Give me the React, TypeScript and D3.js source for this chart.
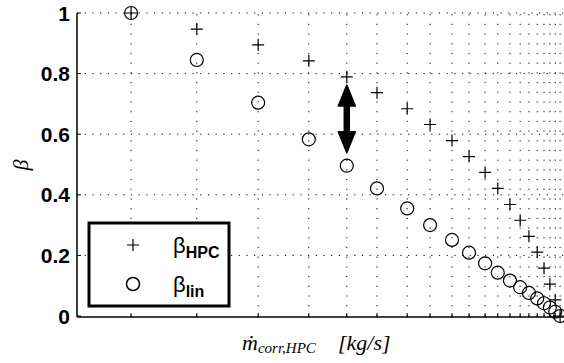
import React from "react";
import * as d3 from "d3";

// Corrected HPC mass flow (arbitrary units, axis carries no numeric labels)
const massFlow = [11.1, 24.6, 37.2, 47.6, 55.4, 61.6, 67.8, 72.5, 77.0, 80.5, 83.8, 86.4, 88.9, 91.0, 92.8, 94.5, 95.9, 97.1, 98.2, 99.2];
const betaHPC = [1, 0.947, 0.895, 0.842, 0.789, 0.737, 0.684, 0.632, 0.579, 0.526, 0.474, 0.421, 0.368, 0.316, 0.263, 0.211, 0.158, 0.105, 0.053, 0];
const betaLin = [1, 0.845, 0.704, 0.583, 0.496, 0.421, 0.355, 0.3, 0.251, 0.209, 0.174, 0.143, 0.117, 0.095, 0.076, 0.058, 0.042, 0.028, 0.014, 0];
const yTicks = [0, 0.2, 0.4, 0.6, 0.8, 1];
const yTickLabels = ["0", "0.2", "0.4", "0.6", "0.8", "1"];
const arrowIndex = 4;

const W = 564;
const H = 363;
const left = 77;
const right = 564;
const top = 13;
const bottom = 316;

export default function App() {
  const x = d3.scaleLinear().domain([0, 100]).range([left, right]);
  const y = d3.scaleLinear().domain([0, 1]).range([bottom, top]);

  const plus = (cx: number, cy: number, s: number, key: string) => (
    <path
      key={key}
      d={`M${cx - s},${cy}H${cx + s}M${cx},${cy - s}V${cy + s}`}
      stroke="#000"
      strokeWidth={1.2}
      fill="none"
    />
  );

  const ax = x(massFlow[arrowIndex]);
  const a1 = y(betaHPC[arrowIndex]) + 8;
  const a2 = y(betaLin[arrowIndex]) - 13;
  const head = 21;
  const hw = 8.5;

  return (
    <svg
      width={W}
      height={H}
      style={{ position: "absolute", left: 0, top: 0, background: "#fff" }}
      fontFamily="'Liberation Sans', Arial, sans-serif"
    >
      <rect width={W} height={H} fill="#fff" />
      {/* horizontal grid */}
      {yTicks.filter((t) => t > 0).map((t) => (
        <line
          key={"hg" + t}
          x1={left}
          x2={right}
          y1={y(t)}
          y2={y(t)}
          stroke="#000"
          strokeWidth={1}
          strokeDasharray="1.2,6.5"
        />
      ))}
      {/* vertical grid at each operating point */}
      {massFlow.map((m, i) => (
        <line
          key={"vg" + i}
          x1={x(m)}
          x2={x(m)}
          y1={bottom}
          y2={top}
          stroke="#000"
          strokeWidth={1}
          strokeDasharray="1.2,8.5"
        />
      ))}
      {/* axes */}
      <line x1={left} x2={left} y1={top} y2={bottom + 1} stroke="#000" strokeWidth={1.5} />
      <line x1={left} x2={right} y1={bottom + 1} y2={bottom + 1} stroke="#000" strokeWidth={1.5} />
      {yTicks.map((t, i) => (
        <g key={"yt" + t}>
          <line x1={left} x2={left + 4} y1={y(t)} y2={y(t)} stroke="#000" strokeWidth={1} />
          <text
            x={70}
            y={y(t)}
            dy="0.36em"
            textAnchor="end"
            fontSize={21}
            fontWeight="bold"
          >
            {yTickLabels[i]}
          </text>
        </g>
      ))}
      {massFlow.map((m, i) => (
        <line key={"xt" + i} x1={x(m)} x2={x(m)} y1={bottom + 1} y2={bottom - 3} stroke="#000" strokeWidth={1} />
      ))}
      {/* data markers */}
      {massFlow.map((m, i) => plus(x(m), y(betaHPC[i]), 6, "p" + i))}
      {massFlow.map((m, i) => (
        <circle key={"c" + i} cx={x(m)} cy={y(betaLin[i])} r={6.5} fill="none" stroke="#000" strokeWidth={1.2} />
      ))}
      {/* double-headed arrow between the two estimates */}
      <line x1={ax} x2={ax} y1={a1 + head - 2} y2={a2 - head + 2} stroke="#000" strokeWidth={6.5} />
      <path d={`M${ax},${a1}L${ax - hw},${a1 + head}L${ax + hw},${a1 + head}Z`} fill="#000" stroke="#000" strokeWidth={1.5} strokeLinejoin="round" />
      <path d={`M${ax},${a2}L${ax - hw},${a2 - head}L${ax + hw},${a2 - head}Z`} fill="#000" stroke="#000" strokeWidth={1.5} strokeLinejoin="round" />
      {/* legend */}
      <rect x={89} y={223} width={140} height={83} fill="#fff" stroke="#000" strokeWidth={3} />
      {plus(133, 245, 6, "lp")}
      <circle cx={133} cy={284} r={6.5} fill="none" stroke="#000" strokeWidth={1.5} />
      <text x={173} y={253} fontSize={22}>
        β<tspan dy={5} fontSize={16} fontWeight="bold">HPC</tspan>
      </text>
      <text x={173} y={292} fontSize={22}>
        β<tspan dy={5} fontSize={16} fontWeight="bold">lin</tspan>
      </text>
      {/* axis labels */}
      <text
        transform="translate(28,165) rotate(-90)"
        textAnchor="middle"
        fontFamily="'Liberation Serif', 'DejaVu Serif', serif"
        fontStyle="italic"
        fontSize={22}
      >
        β
      </text>
      <text
        x={242}
        y={350}
        fontFamily="'Liberation Serif', 'DejaVu Serif', serif"
        fontStyle="italic"
        fontSize={22}
      >
        ṁ
        <tspan dy={3} fontSize={15}>corr,HPC</tspan>
        <tspan x={338} dy={-3} fontSize={22}>[kg/s]</tspan>
      </text>
    </svg>
  );
}
